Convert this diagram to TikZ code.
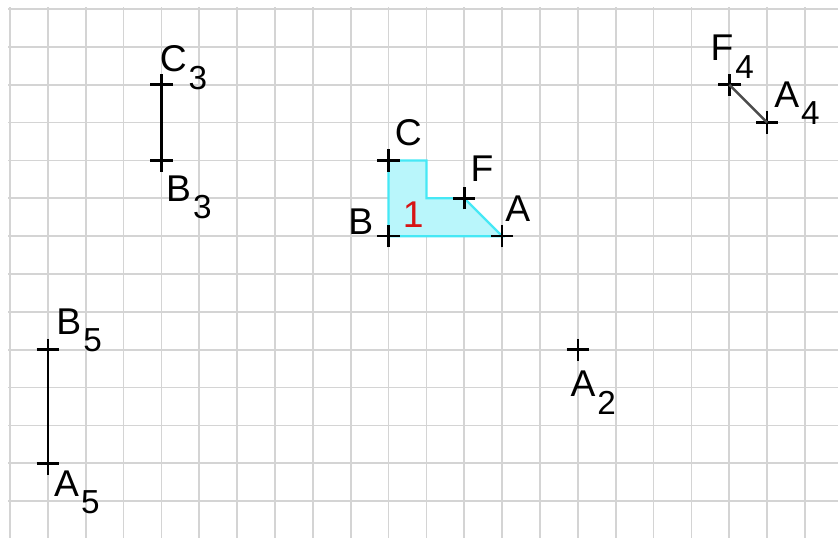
\documentclass[tikz,border=0pt]{standalone}
\usepackage{fontspec}
\setmainfont{Liberation Sans}
\usetikzlibrary{shapes.misc}
\definecolor{polyfill}{RGB}{185,246,251}
\definecolor{polyedge}{RGB}{70,232,245}
\definecolor{gridgray}{RGB}{212,212,212}
\definecolor{numred}{RGB}{215,20,20}
\newcommand{\lbsub}[1]{\kern1.5pt\raisebox{-13pt}{\fontsize{25}{25}\selectfont #1}}

\begin{document}
\begin{tikzpicture}[pt/.style={draw, cross out, rotate=45, minimum size=0.35cm, inner sep=0pt, line width=1.9pt},
    lbl/.style={inner sep=0pt, anchor=base west, font=\fontsize{28}{28}\selectfont},
    seg/.style={line width=1.9pt}]
    \useasboundingbox (-0.264,0.238) rectangle (21.87,-13.97);
    \draw[gridgray, line width=1.3pt, step=1] (-0.05,-13.97) grid (21.87,0.05);
    % corners of figure 1
    \coordinate (c) at (10,-4); \coordinate (b) at (10,-6); \coordinate (f) at (12,-5); \coordinate (a) at (13,-6);
    \fill[polyfill, draw=polyedge, line width=1.7pt] (c) -- (11,-4) -- (11,-5) -- (f) -- (a) -- (b) -- cycle;
    \node[text=numred, font=\fontsize{28}{28}\selectfont] (one) at (10.65,-5.42) {1};
    % images
    \node[pt] (C3) at (4,-2) {}; \node[pt] (B3) at (4,-4) {};
    \node[pt] (F4) at (19,-2) {}; \node[pt] (A4) at (20,-3) {};
    \node[pt] (B5) at (1,-9) {}; \node[pt] (A5) at (1,-12) {};
    \node[pt] (A2) at (15,-9) {};
    \node[pt] (C) at (c) {}; \node[pt] (B) at (b) {}; \node[pt] (F) at (f) {}; \node[pt] (A) at (a) {};
    \draw[seg] (C3.center) -- (B3.center) (B5.center) -- (A5.center);
    \draw[seg, black!70] (F4.center) -- (A4.center);
    % labels
    \node[lbl] (lC3) at ([xshift=-0.05cm, yshift=0.34cm]C3.center) {C\lbsub{3}};
    \node[lbl] (lB3) at ([xshift=0.12cm, yshift=-1.08cm]B3.center) {B\lbsub{3}};
    \node[lbl] (lF4) at ([xshift=-0.5cm, yshift=0.63cm]F4.center) {F\lbsub{4}};
    \node[lbl] (lA4) at ([xshift=0.18cm, yshift=0.4cm]A4.center) {A\lbsub{4}};
    \node[lbl] (lB5) at ([xshift=0.22cm, yshift=0.4cm]B5.center) {B\lbsub{5}};
    \node[lbl] (lA5) at ([xshift=0.16cm, yshift=-0.87cm]A5.center) {A\lbsub{5}};
    \node[lbl] (lA2) at ([xshift=-0.2cm, yshift=-1.24cm]A2.center) {A\lbsub{2}};
    \node[lbl] (lC) at ([xshift=0.16cm, yshift=0.4cm]C.center) {C};
    \node[lbl, anchor=base east] (lB) at ([xshift=-0.4cm, yshift=0.05cm]B.center) {B};
    \node[lbl] (lF) at ([xshift=0.16cm, yshift=0.45cm]F.center) {F};
    \node[lbl] (lA) at ([xshift=0.08cm, yshift=0.4cm]A.center) {A};
\end{tikzpicture}
\end{document}
